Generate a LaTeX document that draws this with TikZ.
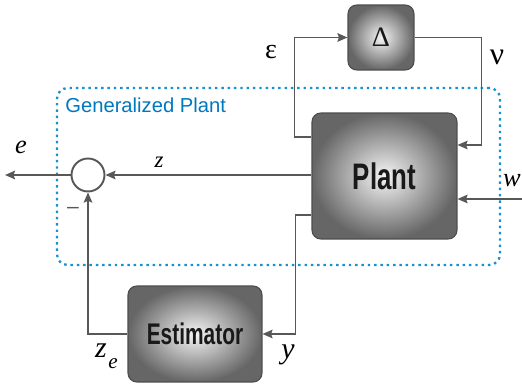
\documentclass[tikz,border=0pt]{standalone}
\usepackage{fontspec}
\setmainfont{Liberation Serif}
\newfontfamily\boxfont[FakeStretch=0.7]{Liberation Sans}
\newfontfamily\gpfont{Liberation Sans}
\usetikzlibrary{arrows.meta,positioning,calc,shadings}
\definecolor{gpblue}{RGB}{0,120,190}
\definecolor{dotblue}{RGB}{25,145,205}
\definecolor{wire}{RGB}{88,88,88}

\begin{document}
\begin{tikzpicture}[
    x=0.02cm, y=-0.02cm,
    block/.style={draw=black!70, line width=0.6pt, rounded corners=5pt, inner color=white!96!black, outer color=black!60, font=\boxfont\bfseries, text=black!90},
    sig/.style={-{Stealth[length=2mm,width=1.7mm,inset=0.3mm]}, line width=1.1pt, draw=wire},
    summer/.style={draw=wire, circle, fill=white, line width=1.1pt, minimum size=0.66cm, inner sep=0pt},
    frame/.style={draw=dotblue, line width=1.3pt, dash pattern=on 1.4pt off 2.2pt, rounded corners=6pt, inner sep=0pt},
    label/.style={font=\fontsize{15}{15}\selectfont\itshape, inner sep=0pt},
    greek/.style={font=\fontsize{18}{18}\selectfont, inner sep=0pt},
]
\useasboundingbox (0,0) rectangle (522,385);

% Generalized plant frame
\node[frame, minimum width=8.86cm, minimum height=3.54cm] (gp) at (278.5,176.5) {};
\node[anchor=base west, inner sep=0pt, text=gpblue, font=\gpfont\fontsize{11.5}{11.5}\selectfont] (gplabel) at (65,113) {Generalized Plant};

% Blocks
\node[block, minimum width=1.32cm, minimum height=1.3cm, font=\fontsize{16}{16}\selectfont] (delta) at (381,37.5) {Δ};
\node[block, minimum width=2.9cm, minimum height=2.52cm, font=\boxfont\bfseries\fontsize{21}{21}\selectfont] (plant) at (384.5,176) {Plant};
\node[block, minimum width=2.68cm, minimum height=1.92cm, font=\boxfont\bfseries\fontsize{17}{17}\selectfont] (estimator) at (195,334) {Estimator};
\node[summer] (sum) at (88,175) {};

% Free ends
\coordinate (win) at (522,199);
\coordinate (eout) at (5,175);

% Uncertainty loop
\draw[sig] ($(plant.west)+(0,-39)$) -- ++(-17,0) |- (delta.west);
\draw[sig] (delta.east) -- ++(67,0) |- ($(plant.east)+(0,-31)$);

% Signals
\draw[sig] (win) -- (win -| plant.east);
\draw[sig] (plant.west |- sum) -- (sum.east);
\draw[sig] (sum.west) -- (eout);
\draw[sig] ($(plant.west)+(0,39)$) -- ++(-16,0) |- (estimator.east);
\draw[sig] (estimator.west) -| (sum.south);

% Labels
\node[greek, font=\fontsize{16}{16}\selectfont] (eps) at (271,52) {ε};
\node[greek] (nu) at (497,57) {ν};
\node[label] (elabel) at (21,147) {e};
\node[label, font=\fontsize{13}{13}\selectfont\itshape] (zlabel) at (159,162) {z};
\node[label] (wlabel) at (512,181) {w};
\node[inner sep=0pt, text=wire, font=\gpfont\fontsize{12}{12}\selectfont] (minus) at (73,210) {–};
\node[label, font=\fontsize{17}{17}\selectfont\itshape] (zelabel) at (101,351) {z};
\node[label, font=\fontsize{12}{12}\selectfont\itshape] (zesub) at (113,364) {e};
\node[label, font=\fontsize{17}{17}\selectfont\itshape] (ylabel) at (288,355) {y};

\end{tikzpicture}
\end{document}
